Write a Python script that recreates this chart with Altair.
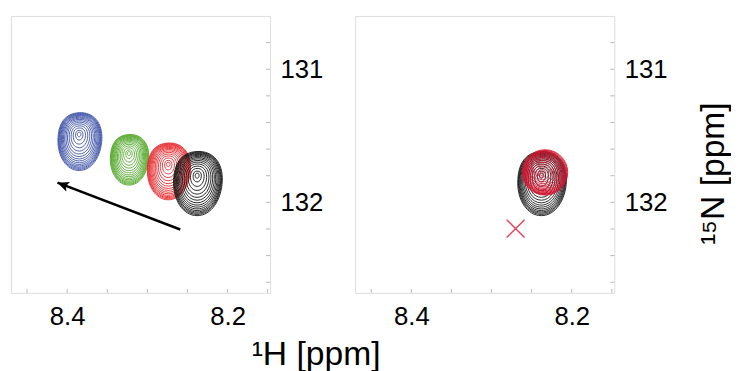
import altair as alt
import pandas as pd

# ---- data ----
# peak centres: 1H (ppm), 15N (ppm)
left_peaks = ["blue", "green", "red", "black"]          # drawing order
left_h = [8.385, 8.323, 8.274, 8.238]
left_n = [131.486, 131.630, 131.711, 131.795]
left_extent = [0.274, 0.240, 0.269, 0.304]               # outer contour size (ppm 15N)
left_form = ["egg", "egg", "egg", "egg"]

right_peaks = ["black", "crimson"]
right_h = [8.238, 8.238]
right_n = [131.795, 131.785]
right_extent = [0.304, 0.170]
right_form = ["egg", "round"]

# relative contour levels (outer -> inner)
contour_levels = [1.00, 0.97, 0.94, 0.91, 0.875, 0.835, 0.79, 0.74, 0.685,
                  0.62, 0.55, 0.47, 0.38, 0.28, 0.17, 0.08]

# arrow (left panel) and cross marker (right panel)
arrow_h = [8.259, 8.412]
arrow_n = [132.204, 131.852]
cross_h = [8.270]
cross_n = [132.197]

x_ticks = [8.45, 8.40, 8.35, 8.30, 8.25, 8.20, 8.15]
y_ticks = [130.8, 131.0, 131.2, 131.4, 131.6, 131.8, 132.0, 132.2, 132.4, 132.6]
x_labels = [8.4, 8.2]
y_labels = [131, 132]

peak_names = ["blue", "green", "red", "black", "crimson"]
peak_colors = ["#3b50a6", "#55a82c", "#e5262b", "#111111", "#d5142e"]

EGG = ("M0,-0.58 C0.4,-0.6 0.64,-0.3 0.62,0.15 C0.6,0.6 0.36,1 0,1 "
       "C-0.36,1 -0.58,0.6 -0.58,0.2 C-0.58,-0.3 -0.38,-0.56 0,-0.58 Z")
ROUND = "M1.165,-0.057 A1,1 0 1,1 -0.835,-0.057 A1,1 0 1,1 1.165,-0.057 Z"
ARROW = "M0,0 L0.45,1 L0,0.8 L-0.45,1 Z"
CROSS = "M-1,-1 L1,1 M-1,1 L1,-1"

W, H = 262, 280
FONT = "Liberation Sans"


def contour_frame(names, hs, ns, exts, forms):
    rows = []
    for name, h, n, e, f in zip(names, hs, ns, exts, forms):
        for lv in contour_levels:
            rows.append({"peak": name, "h": h, "n": n, "r": e * lv, "form": f})
    return pd.DataFrame(rows)


xs = alt.Scale(domain=[8.147, 8.47], reverse=True, nice=False, zero=False)
ys = alt.Scale(domain=[130.6, 132.68], reverse=True, nice=False, zero=False)
size_scale = alt.Scale(type="pow", exponent=2, domain=[0, 0.4],
                       range=[0, (2 * 0.4 * 135) ** 2])
shape_scale = alt.Scale(domain=["egg", "round"], range=[EGG, ROUND])
color_scale = alt.Scale(domain=peak_names, range=peak_colors)


def x_axis(with_title):
    kw = dict(values=x_labels, format=".1f", ticks=False, tickSize=0,
              domain=False, grid=False, labelFontSize=26, labelPadding=11,
              labelColor="black", labelFont=FONT)
    if with_title:
        kw.update(title="¹H [ppm]", titleX=308, titleY=72,
                  titleBaseline="alphabetic", titleAlign="center",
                  titleFontSize=34, titleFontWeight="normal",
                  titleFont=FONT, titleColor="black")
    else:
        kw.update(title=None)
    return alt.Axis(**kw)


def y_axis(with_title):
    kw = dict(orient="right", values=y_labels, format="d", ticks=False,
              tickSize=0, domain=False, grid=False, labelFontSize=26,
              labelPadding=10, labelColor="black", labelFont=FONT)
    if with_title:
        kw.update(title="¹⁵N [ppm]", titleAngle=270, titleX=110, titleY=159,
                  titleBaseline="alphabetic", titleAlign="center",
                  titleFontSize=34, titleFontWeight="normal",
                  titleFont=FONT, titleColor="black")
    else:
        kw.update(title=None)
    return alt.Axis(**kw)


def panel(cdf, extra_fn, left):
    xa, ya = x_axis(left), y_axis(not left)
    contours = alt.Chart(cdf).mark_point(filled=False, strokeWidth=0.9,
                                         opacity=1).encode(
        x=alt.X("h:Q", scale=xs, axis=xa),
        y=alt.Y("n:Q", scale=ys, axis=ya),
        size=alt.Size("r:Q", scale=size_scale, legend=None),
        shape=alt.Shape("form:N", scale=shape_scale, legend=None),
        color=alt.Color("peak:N", scale=color_scale, legend=None),
    )
    xt = alt.Chart(pd.DataFrame({"t": x_ticks})).mark_tick(
        orient="vertical", size=4, thickness=1, color="#999999").encode(
        x=alt.X("t:Q", scale=xs, axis=xa), y=alt.value(H - 2))
    yt = alt.Chart(pd.DataFrame({"t": y_ticks})).mark_tick(
        orient="horizontal", size=4, thickness=1, color="#999999").encode(
        y=alt.Y("t:Q", scale=ys, axis=ya), x=alt.value(W - 2))
    return alt.layer(contours, *extra_fn(xa, ya), xt, yt).properties(width=W, height=H)


def left_extra(xa, ya):
    arrow_df = pd.DataFrame({"h0": [arrow_h[0]], "n0": [arrow_n[0]],
                             "h1": [arrow_h[1]], "n1": [arrow_n[1]]})
    line = alt.Chart(arrow_df).mark_rule(strokeWidth=2.5, color="black").encode(
        x=alt.X("h0:Q", scale=xs, axis=xa), y=alt.Y("n0:Q", scale=ys, axis=ya),
        x2="h1:Q", y2="n1:Q")
    head = alt.Chart(arrow_df).mark_point(
        shape=ARROW, filled=True, size=529, angle=291, color="black",
        opacity=1, strokeWidth=1).encode(
        x=alt.X("h1:Q", scale=xs, axis=xa), y=alt.Y("n1:Q", scale=ys, axis=ya))
    return [line, head]


def right_extra(xa, ya):
    cross_df = pd.DataFrame({"h": cross_h, "n": cross_n})
    cross = alt.Chart(cross_df).mark_point(
        shape=CROSS, filled=False, size=324, color="#e8435a", strokeWidth=1.5,
        opacity=1).encode(
        x=alt.X("h:Q", scale=xs, axis=xa), y=alt.Y("n:Q", scale=ys, axis=ya))
    return [cross]


left_df = contour_frame(left_peaks, left_h, left_n, left_extent, left_form)
right_df = contour_frame(right_peaks, right_h, right_n, right_extent, right_form)

left_chart = panel(left_df, left_extra, True)
right_chart = panel(right_df, right_extra, False)

chart = alt.hconcat(left_chart, right_chart, spacing=86, bounds="flush").properties(
    padding={"left": 2, "top": 5, "right": 0, "bottom": 0}
).configure_view(stroke="#a6a6a6", strokeWidth=1.5).configure(background="white")

chart.save("out.html", embed_options={"renderer": "svg", "actions": False})
